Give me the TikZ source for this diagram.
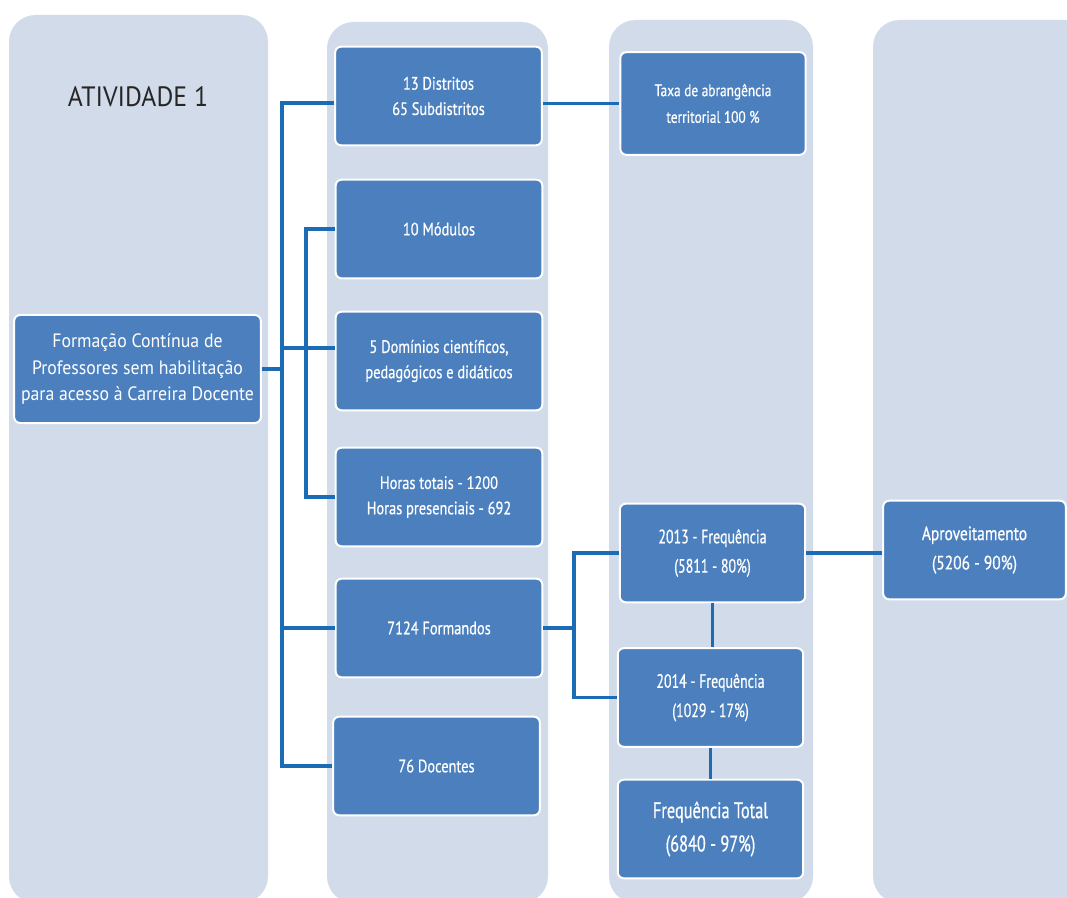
\documentclass[tikz,border=0pt]{standalone}
\usepackage{fontspec}
\setmainfont{PT Sans}
\newfontfamily\condfont[FakeStretch=0.8, FakeBold=0.6]{PT Sans}
\newfontfamily\narrowfont[FakeStretch=0.72, FakeBold=0.6]{PT Sans}
\newfontfamily\semifont[FakeStretch=0.92]{PT Sans}
\usepackage{xcolor}
\usetikzlibrary{positioning, calc}

\definecolor{colbg}{HTML}{D1DBEA}
\definecolor{boxblue}{HTML}{4B7FBE}
\definecolor{linkblue}{HTML}{1C6CB5}

\begin{document}
\begin{tikzpicture}[x=0.75pt, y=-0.75pt,
    column/.style={fill=colbg, rounded corners=20pt},
    box/.style={draw=white, line width=1.5pt, fill=boxblue, rounded corners=4.5pt,
      text=white, align=center, inner sep=0pt,
      minimum width=155pt, minimum height=74pt,
      font=\condfont\fontsize{13.5}{19}\selectfont},
    bigbox/.style={box, minimum width=139pt,
      font=\narrowfont\fontsize{14.5}{22}\selectfont},
    link/.style={draw=linkblue, line width=2.8pt}]

    \useasboundingbox (0,0) rectangle (1067,898);
    \clip (0,0) rectangle (1067,898);

    % Columns
    \fill[column] (9,15) rectangle (268,903);
    \fill[column] (327,22) rectangle (548,903);
    \fill[column] (609,20) rectangle (813,903);
    \fill[column] (873,20) rectangle (1110,903);

    \node[font=\semifont\fontsize{21}{24}\selectfont, text=black!85] (title) at (138,97) {ATIVIDADE 1};

    \node[box, minimum width=185pt, minimum height=81pt,
      font=\semifont\fontsize{14.5}{20}\selectfont] (main) at (137.5,369)
      {Formação Contínua de\\Professores sem habilitação\\para acesso à Carreira Docente};

    % Second column
    \node[box] (dist) at (438.5,96) {13 Distritos\\65 Subdistritos};
    \node[box] (mod) at (439,229) {10 Módulos};
    \node[box] (dom) at (439,361) {5 Domínios científicos,\\pedagógicos e didáticos};
    \node[box] (hor) at (439,497) {Horas totais - 1200\\Horas presenciais - 692};
    \node[box] (form) at (439,628) {7124 Formandos};
    \node[box] (doc) at (436.5,766) {76 Docentes};

    % Third column
    \node[box, minimum width=139pt, minimum height=77pt,
      font=\condfont\fontsize{12.5}{20}\selectfont] (taxa) at (713,103.5)
      {Taxa de abrangência\\territorial 100 \%};
    \node[bigbox] (f13) at (712.5,553) {2013 - Frequência\\(5811 - 80\%)};
    \node[bigbox] (f14) at (710.5,697.5) {2014 - Frequência\\(1029 - 17\%)};
    \node[bigbox, font=\narrowfont\fontsize{17}{25}\selectfont] (tot) at (710.5,829)
      {Frequência Total\\(6840 - 97\%)};

    % Fourth column
    \node[bigbox, minimum width=137pt, font=\condfont\fontsize{14.5}{22}\selectfont]
      (apr) at (974.5,550) {Aproveitamento\\(5206 - 90\%)};

    % Links
    \coordinate (trunk) at (282,0);
    \coordinate (trunkb) at (306,0);
    \coordinate (fork) at (574,0);
    \coordinate (distin) at ([yshift=-5pt]dist.west);
    \coordinate (domin) at ([yshift=10pt]dom.west);

    \draw[link] (main.east) -- (main.east -| trunk);
    \draw[link, line cap=rect] (distin -| trunk) -- (doc.west -| trunk);
    \foreach \b in {distin, domin, form.west, doc.west}
    \draw[link] (\b -| trunk) -- (\b);

    \draw[link, line cap=rect] (mod.west -| trunkb) -- (hor.west -| trunkb);
    \foreach \b in {mod, hor}
    \draw[link] (\b.west -| trunkb) -- (\b.west);

    \draw[link] (taxa.west -| dist.east) -- (taxa.west);

    \draw[link] (form.east) -- (form.east -| fork);
    \draw[link, line cap=rect] (f13.west -| fork) -- (f14.west -| fork);
    \foreach \b in {f13, f14}
    \draw[link] (\b.west -| fork) -- (\b.west);

    \draw[link] (f13.east) -- (f13.east -| apr.west);
    \draw[link] (f13.south) -- (f13.south |- f14.north);
    \draw[link] (f14.south) -- (f14.south |- tot.north);
\end{tikzpicture}
\end{document}
